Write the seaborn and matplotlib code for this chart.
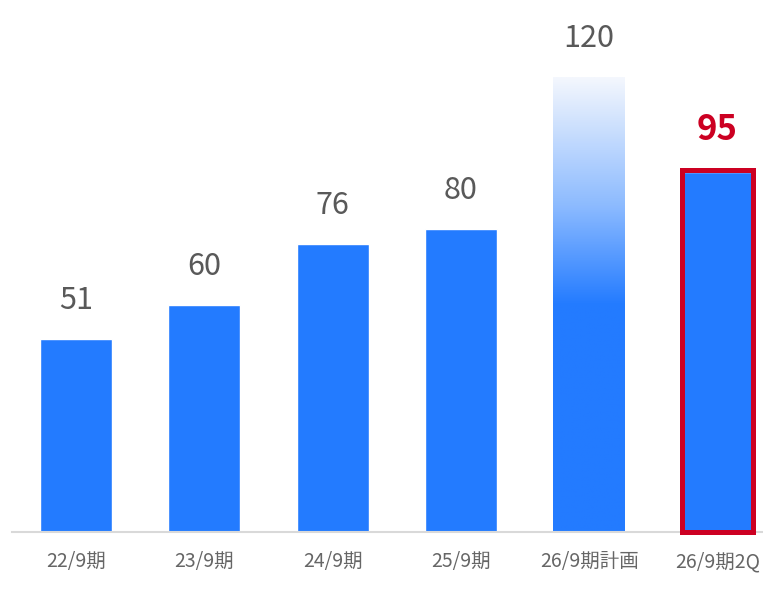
import matplotlib
matplotlib.use("Agg")
import matplotlib.pyplot as plt
import seaborn as sns
import numpy as np
import pandas as pd
from matplotlib.colors import LinearSegmentedColormap
from matplotlib.patches import Rectangle

categories = ["22/9期", "23/9期", "24/9期", "25/9期", "26/9期計画", "26/9期2Q"]
values = [51, 60, 76, 80, 120, 95]

sns.set_theme(style="white")
plt.rcParams["font.family"] = ["Noto Sans CJK JP", "DejaVu Sans"]

BLUE = "#237BFF"
RED = "#CC0022"
GRAY = "#595959"

W, H = 763, 604
fig = plt.figure(figsize=(W / 100, H / 100), dpi=100)
ax_left = 12 / W
ax_bottom = (H - 532) / H
ppu = 3.79
ymax = 140
ax_h = ymax * ppu / H
ax = fig.add_axes([ax_left, ax_bottom, 1 - ax_left, ax_h])

df = pd.DataFrame({"cat": categories, "val": values})
sns.barplot(data=df, x="cat", y="val", color=BLUE, saturation=1, width=0.56, ax=ax)

ax.set_ylim(0, ymax)
ax.set_xlim(-0.5, (W - 76) / 128.3)

# gradient bar (plan)
p = ax.patches[4]
x0, y0 = p.get_x(), p.get_y()
w, h = p.get_width(), p.get_height()
p.set_facecolor("none")
cmap = LinearSegmentedColormap.from_list(
    "g", [(0.0, BLUE), (0.5, BLUE), (0.72, "#8DBBFF"), (1.0, "#F4F7FD")])
grad = np.linspace(0, 1, 256).reshape(-1, 1)
im = ax.imshow(grad, cmap=cmap, aspect="auto", origin="lower",
               extent=(x0, x0 + w, y0, y0 + h), zorder=2)
im.set_clip_path(p)

# highlighted bar
q = ax.patches[5]
qx, qw, qh = q.get_x(), q.get_width(), q.get_height()
ax.add_patch(Rectangle((qx, 0), qw, qh + 0.6, fill=False,
                       edgecolor=RED, linewidth=3.6, zorder=4, clip_on=False))

# value labels
for i, v in enumerate(values):
    if i == 5:
        ax.text(i, v + 6.5, f"{v}", ha="center", va="bottom", fontsize=25,
                fontweight="bold", color=RED)
    else:
        ax.text(i, v + 6, f"{v}", ha="center", va="bottom", fontsize=22,
                color=GRAY)

sns.despine(ax=ax, left=True, top=True, right=True)
ax.spines["bottom"].set_color("#D9D9D9")
ax.spines["bottom"].set_linewidth(1.5)
ax.set_yticks([])
ax.set_xlabel("")
ax.set_ylabel("")
ax.tick_params(axis="x", length=0, pad=14, labelsize=14, labelcolor="#666666")
ax.set_facecolor("white")

fig.savefig("out.png", dpi=100, facecolor="white")
